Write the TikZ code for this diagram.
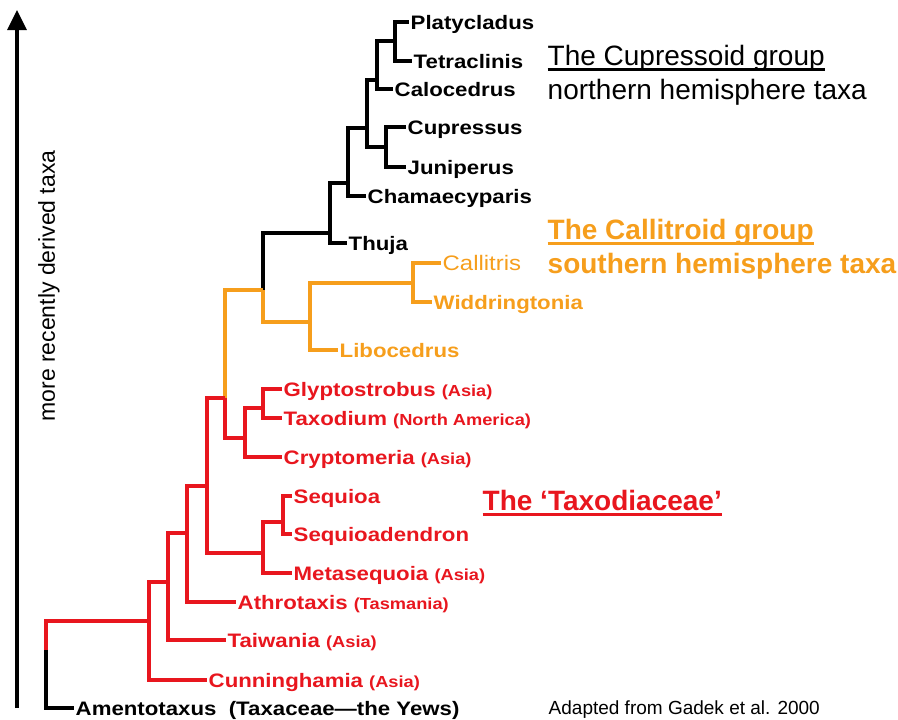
\documentclass[tikz,border=0pt]{standalone}
\usepackage{fontspec}
\setmainfont{Liberation Sans}
\newfontfamily\taxonfont[FakeStretch=1.14]{Liberation Sans}
\usetikzlibrary{arrows.meta}

\definecolor{cladered}{RGB}{232,22,30}
\definecolor{cladeorange}{RGB}{246,158,28}

\newcommand{\regionnote}[1]{{\fontsize{16}{18}\selectfont #1}}
\newcommand{\groupunderline}[1]{\setbox0=\hbox{#1}\rlap{\rule[-5.5pt]{\wd0}{2.5pt}}\box0}

\begin{document}
\begin{tikzpicture}[x=1pt, y=-1pt,
  every node/.style={font=\taxonfont\fontsize{19.5}{22}\selectfont\bfseries},
  taxon/.style={anchor=west, inner sep=1.5pt, text height=14pt, text depth=0pt},
  header/.style={anchor=west, inner sep=1.5pt, text height=20pt, text depth=0pt, font=\fontsize{28}{32}\selectfont},
  branch/.style={line width=3.4pt}]

\useasboundingbox (0,0) rectangle (898,720);

% time axis on the left
\coordinate (axisbot) at (17,708);
\coordinate (axistop) at (17,10);
\draw[line width=3.4pt, -{Triangle[width=19pt,length=20pt]}] (axisbot) -- (axistop);
\node[rotate=90, font=\fontsize{23}{26}\selectfont] (axislabel) at (49,286) {more recently derived taxa};

% taxa (tips of the tree)
\foreach \name/\x/\y/\col/\txt in {
    platy/409/22/black/{Platycladus}, tetra/412/61/black/{Tetraclinis}, calo/393/89/black/{Calocedrus},
    cupr/406/127/black/{Cupressus}, juni/406/167/black/{Juniperus}, chama/366/196/black/{Chamaecyparis},
    thuja/347/243/black/{Thuja},
    calli/441/263/cladeorange/{\mdseries\fontsize{21}{24}\selectfont Callitris}, widd/432/302/cladeorange/{Widdringtonia}, libo/338/350/cladeorange/{Libocedrus},
    glyp/282/389/cladered/{Glyptostrobus \regionnote{(Asia)}}, taxo/282/418/cladered/{Taxodium \regionnote{(North America)}},
    crypt/282/457/cladered/{Cryptomeria \regionnote{(Asia)}}, sequ/292/496/cladered/{Sequioa},
    sqden/292/534/cladered/{Sequioadendron}, meta/292/573/cladered/{Metasequoia \regionnote{(Asia)}},
    athro/236/602/cladered/{Athrotaxis \regionnote{(Tasmania)}}, taiw/226/640/cladered/{Taiwania \regionnote{(Asia)}},
    cunn/207/680/cladered/{Cunninghamia \regionnote{(Asia)}}, ament/74/708/black/{Amentotaxus\ \ (Taxaceae—the Yews)}} {
    \node[taxon, text=\col] (\name) at (\x,\y) {\txt};
}

% branching points
\foreach \name/\x/\y in {
    nplat/395/41, ncalo/377/80, ncupr/386/147, ncup/367/128, nchama/348/183, nthuja/330/233,
    ncalli/413/283, nlibo/310/322, nsplit/263/290, ncallit/225/398,
    nglyp/263/408, ncrypt/245/438, nsequ/283/522, nmeta/263/553, ntaxod/207/486,
    nathro/187/533, ntaiw/168/582, ncunn/149/621, nroot/46/650} {
    \coordinate (\name) at (\x,\y);
}

% branches: parent, child, colour
\foreach \from/\to/\col in {
    nplat/platy/black, nplat/tetra/black, ncalo/nplat/black, ncalo/calo/black,
    ncupr/cupr/black, ncupr/juni/black, ncup/ncalo/black, ncup/ncupr/black,
    nchama/ncup/black, nchama/chama/black, nthuja/nchama/black, nthuja/thuja/black,
    nsplit/nthuja/black,
    ncalli/calli/cladeorange, ncalli/widd/cladeorange, nlibo/ncalli/cladeorange, nlibo/libo/cladeorange,
    nsplit/nlibo/cladeorange, ncallit/nsplit/cladeorange,
    nglyp/glyp/cladered, nglyp/taxo/cladered, ncrypt/nglyp/cladered, ncrypt/crypt/cladered,
    ncallit/ncrypt/cladered, nsequ/sequ/cladered, nsequ/sqden/cladered, nmeta/nsequ/cladered,
    nmeta/meta/cladered, ntaxod/ncallit/cladered, ntaxod/nmeta/cladered, nathro/ntaxod/cladered,
    nathro/athro/cladered, ntaiw/nathro/cladered, ntaiw/taiw/cladered, ncunn/ntaiw/cladered,
    ncunn/cunn/cladered, nroot/ncunn/cladered, nroot/ament/black} {
    \draw[branch, \col] (\from) |- (\to);
}

% group notes on the right
\node[header] (cupgroup) at (546,55) {\groupunderline{The Cupressoid group}};
\node[header] (cupnote) at (546,89) {northern hemisphere taxa};
\node[header, text=cladeorange, font=\fontsize{28}{32}\selectfont\bfseries] (calgroup) at (546,229) {\groupunderline{The Callitroid group}};
\node[header, text=cladeorange, font=\fontsize{28}{32}\selectfont\bfseries] (calnote) at (546,263) {southern hemisphere taxa};
\node[header, text=cladered, font=\fontsize{28}{32}\selectfont\bfseries] (taxgroup) at (481,500) {\groupunderline{The ‘Taxodiaceae’}};
\node[header, text height=13.5pt, font=\fontsize{19}{22}\selectfont] (source) at (547,708) {Adapted from Gadek et al. 2000};

\end{tikzpicture}
\end{document}
